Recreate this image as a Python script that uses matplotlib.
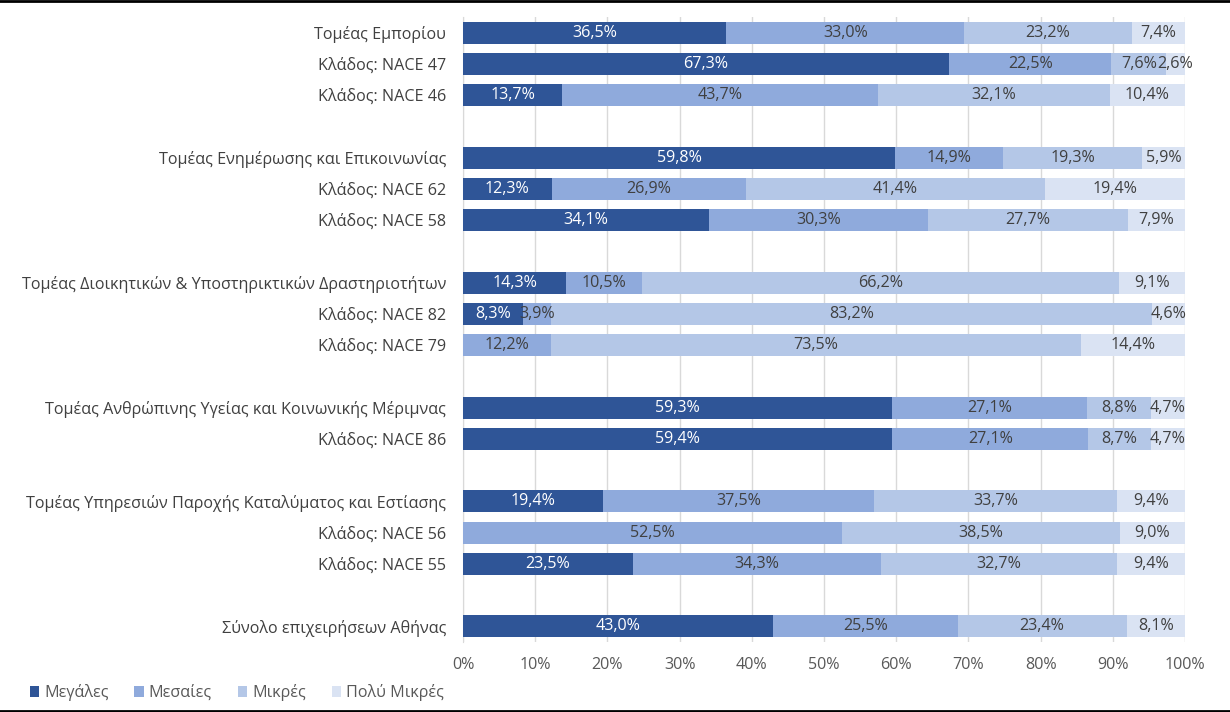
import numpy as np
import matplotlib.pyplot as plt
from matplotlib.lines import Line2D

plt.rcParams['font.family'] = ['Open Sans', 'DejaVu Sans']

# Categories (top to bottom), None = empty gap row
categories = [
    "Τομέας Εμπορίου", "Κλάδος: NACE 47", "Κλάδος: NACE 46", None,
    "Τομέας Ενημέρωσης και Επικοινωνίας", "Κλάδος: NACE 62", "Κλάδος: NACE 58", None,
    "Τομέας Διοικητικών & Υποστηρικτικών Δραστηριοτήτων", "Κλάδος: NACE 82", "Κλάδος: NACE 79", None,
    "Τομέας Ανθρώπινης Υγείας και Κοινωνικής Μέριμνας", "Κλάδος: NACE 86", None,
    "Τομέας Υπηρεσιών Παροχής Καταλύματος και Εστίασης", "Κλάδος: NACE 56", "Κλάδος: NACE 55", None,
    "Σύνολο επιχειρήσεων Αθήνας",
]

megales = [36.5, 67.3, 13.7, None, 59.8, 12.3, 34.1, None, 14.3, 8.3, 0.0, None,
           59.3, 59.4, None, 19.4, 0.0, 23.5, None, 43.0]
mesaies = [33.0, 22.5, 43.7, None, 14.9, 26.9, 30.3, None, 10.5, 3.9, 12.2, None,
           27.1, 27.1, None, 37.5, 52.5, 34.3, None, 25.5]
mikres = [23.2, 7.6, 32.1, None, 19.3, 41.4, 27.7, None, 66.2, 83.2, 73.5, None,
          8.8, 8.7, None, 33.7, 38.5, 32.7, None, 23.4]
poly_mikres = [7.4, 2.6, 10.4, None, 5.9, 19.4, 7.9, None, 9.1, 4.6, 14.4, None,
               4.7, 4.7, None, 9.4, 9.0, 9.4, None, 8.1]

series_names = ["Μεγάλες", "Μεσαίες", "Μικρές", "Πολύ Μικρές"]
colors = ["#2F5597", "#8FAADC", "#B4C7E7", "#DAE3F3"]
text_colors = ["white", "#404040", "#404040", "#404040"]

series = [megales, mesaies, mikres, poly_mikres]
FS = 11.6

fig = plt.figure(figsize=(12.3, 7.12), dpi=100)
ax = fig.add_axes([463 / 1230, 1 - 642 / 712, (1185 - 463) / 1230, (642 - 17) / 712])

n = len(categories)
ypos = np.arange(n)
rows = [i for i, c in enumerate(categories) if c is not None]

left = np.zeros(n)
for s, name, col, tcol in zip(series, series_names, colors, text_colors):
    vals = np.array([v if v is not None else 0 for v in s], dtype=float)
    # Scale each row so the stack fills exactly 100%
    tot = np.array([sum(x[i] or 0 for x in series) for i in range(n)])
    tot[tot == 0] = 1
    widths = vals / tot * 100
    ax.barh(ypos[rows], widths[rows], left=left[rows], height=0.7, color=col,
            label=name, zorder=3)
    for i in rows:
        if vals[i] > 0:
            ax.text(left[i] + widths[i] / 2, ypos[i], f"{vals[i]:.1f}%".replace(".", ","),
                    ha="center", va="center", color=tcol, fontsize=FS, zorder=4)
    left += widths

ax.set_ylim(n - 0.5, -0.5)
ax.set_xlim(0, 100)
ax.set_yticks(ypos[rows])
ax.set_yticklabels([categories[i] for i in rows], fontsize=FS, color="#404040")
ax.set_xticks(np.arange(0, 101, 10))
ax.set_xticklabels([f"{x}%" for x in range(0, 101, 10)], fontsize=FS, color="#595959")
ax.tick_params(axis="y", length=0, pad=12)
ax.tick_params(axis="x", length=0, pad=11)
ax.grid(axis="x", color="#D9D9D9", linewidth=1, zorder=0)
for sp in ["top", "right", "bottom"]:
    ax.spines[sp].set_visible(False)
ax.spines["left"].set_color("#D9D9D9")

ax.legend(loc="lower left", bbox_to_anchor=(-463 / 722 + 15 / 722, -0.118), ncol=4,
          frameon=False, fontsize=FS, handlelength=0.6, handleheight=0.7,
          handletextpad=0.3, columnspacing=1.6, labelcolor="#595959")

# Black lines at top and bottom edge
fig.add_artist(Line2D([0, 1], [0.999, 0.999], color="black", linewidth=2, transform=fig.transFigure))
fig.add_artist(Line2D([0, 1], [0.002, 0.002], color="black", linewidth=2, transform=fig.transFigure))

fig.savefig("out.png", dpi=100)
